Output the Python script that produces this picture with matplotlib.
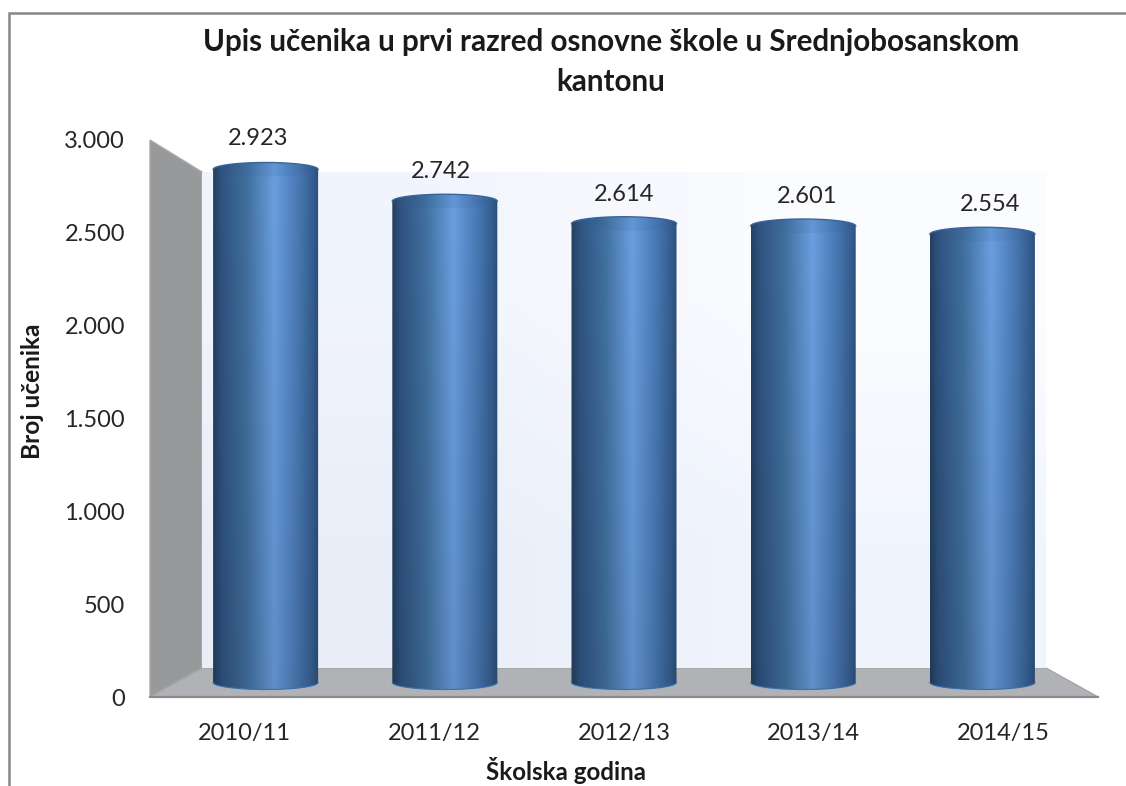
# Upis ucenika - cylinder column chart with fake 3D walls
import numpy as np
import matplotlib
matplotlib.use("Agg")
import matplotlib.pyplot as plt
from matplotlib.colors import LinearSegmentedColormap
from matplotlib.patches import Polygon, PathPatch, Ellipse
from matplotlib.path import Path

years = ["2010/11", "2011/12", "2012/13", "2013/14", "2014/15"]
students = [2923, 2742, 2614, 2601, 2554]
students_labels = ["2.923", "2.742", "2.614", "2.601", "2.554"]
y_ticks = [0, 500, 1000, 1500, 2000, 2500, 3000]
y_tick_labels = ["0", "500", "1.000", "1.500", "2.000", "2.500", "3.000"]

plt.rcParams["font.family"] = ["Lato", "DejaVu Sans"]

W, H = 1126, 786
fig = plt.figure(figsize=(W / 100, H / 100), dpi=100, facecolor="white")

# pixel layout of the 3D box
FX0, FX1, FY0, FY1 = 150, 1098, 697, 140  # front plane
BX0, BX1, BY0, BY1 = 202, 1046, 668, 172  # back plane


def plane_axes(t, z):
    # axes on a plane between front (t=0) and back (t=1) of the box
    x0 = FX0 + (BX0 - FX0) * t
    x1 = FX1 + (BX1 - FX1) * t
    y0 = FY0 + (BY0 - FY0) * t
    y1 = FY1 + (BY1 - FY1) * t
    a = fig.add_axes([x0 / W, 1 - y0 / H, (x1 - x0) / W, (y0 - y1) / H])
    a.set_xlim(-0.5, 4.5)
    a.set_ylim(0, 3000)
    a.patch.set_visible(False)
    for s in a.spines.values():
        s.set_visible(False)
    a.set_xticks([])
    a.set_yticks([])
    a.set_zorder(z)
    return a


# chrome: frame, side wall, floor
chrome = fig.add_axes([0, 0, 1, 1])
chrome.set_xlim(0, W)
chrome.set_ylim(H, 0)
chrome.axis("off")
chrome.set_zorder(0)
chrome.plot([9, 9, W], [H, 13, 13], color="#868686", lw=1.8, solid_joinstyle="miter")
chrome.add_patch(Polygon([(FX0, FY1), (BX0, BY1), (BX0, BY0), (FX0, FY0)], fc="#98999b", ec="#a8a9ab", lw=1))
chrome.add_patch(Polygon([(FX0, FY0), (BX0, BY0), (BX1, BY0), (FX1, FY0)], fc="#b0b2b5", ec="#a3a5a8", lw=1))
chrome.plot([FX0, FX1], [FY0, FY0], color="#8b8c8e", lw=1.6)

# back wall
back = plane_axes(1.0, 1)
corners = np.array([[[0.945, 0.958, 0.992], [0.988, 0.992, 1.0]],
                    [[0.914, 0.933, 0.973], [0.945, 0.961, 0.996]]])
back.imshow(corners, extent=(-0.5, 4.5, 0, 3000), aspect="auto", interpolation="bilinear")
back.set_xlim(-0.5, 4.5)
back.set_ylim(0, 3000)

# cylinders sit halfway into the box
bars = plane_axes(0.5, 2)
half_w = 0.293
cap = 40
shade = LinearSegmentedColormap.from_list("cyl", [(0.0, "#24405f"), (0.08, "#2f5380"), (0.32, "#41709f"),
                                                  (0.58, "#6a9fe0"), (0.8, "#4a7ab5"), (0.95, "#345d8f"),
                                                  (1.0, "#2b4e78")])
th = np.linspace(0, np.pi, 60)
for i, v in enumerate(students):
    outline = np.concatenate([
        np.c_[i + half_w * np.cos(th), v + cap * np.sin(th)],
        np.c_[i - half_w * np.cos(th), -cap * np.sin(th)],
    ])
    clip = PathPatch(Path(np.vstack([outline, outline[:1]])), transform=bars.transData, fc="none", ec="none", clip_on=False)
    bars.add_patch(clip)
    u = np.linspace(0, 1, 256)
    rgb = shade(u)[:, :3]
    rows = np.linspace(1.0, 0.9, 64)[:, None, None]
    im = bars.imshow(rgb[None, :, :] * rows, extent=(i - half_w, i + half_w, -cap, v + cap), aspect="auto", interpolation="bilinear")
    # the round bottom hangs below y=0, so clip to the figure and not the axes
    im.set_clip_box(fig.bbox)
    im.set_clip_path(clip)
    # top face and rim
    bars.add_patch(Ellipse((i, v), 2 * half_w, 2 * cap, fc="#2f5a90", ec="none", alpha=0.12))
    bars.plot(i + half_w * np.cos(th), v + cap * np.sin(th), color="#3a6598", lw=1)
    bars.plot(i + half_w * np.cos(th), -cap * np.sin(th), color="#3a6fb0", lw=0.8, clip_on=False)
bars.set_xlim(-0.5, 4.5)
bars.set_ylim(0, 3000)

# data labels live on their own plane, slightly in front of the bars
lab = plane_axes(0.31, 3)
for i, (v, s) in enumerate(zip(students, students_labels)):
    lab.annotate(s, (i, v), xytext=(0, 18), textcoords="offset points", ha="center", va="center", fontsize=17, color="#262626", annotation_clip=False)

# ticks on the front plane
ax = plane_axes(0.0, 4)
ax.set_xticks(range(len(years)))
ax.set_xticklabels(years, fontsize=17, color="#262626")
ax.set_yticks(y_ticks)
ax.set_yticklabels(y_tick_labels, fontsize=17, color="#262626")
ax.tick_params(axis="both", length=0)
ax.tick_params(axis="x", pad=19)
ax.tick_params(axis="y", pad=18)

fig.text(611 / W, 1 - 62 / H, "Upis učenika u prvi razred osnovne škole u Srednjobosanskom\nkantonu",
         ha="center", va="center", fontsize=21.3, fontweight="bold", color="#1a1a1a", linespacing=1.55)
fig.text(32 / W, 1 - 391 / H, "Broj učenika", rotation=90, ha="center", va="center", fontsize=17.6, fontweight="bold", color="#1a1a1a")
fig.text(566 / W, 1 - 770 / H, "Školska godina", ha="center", va="center", fontsize=17.4, fontweight="bold", color="#1a1a1a")

fig.savefig("out.png", dpi=100)
